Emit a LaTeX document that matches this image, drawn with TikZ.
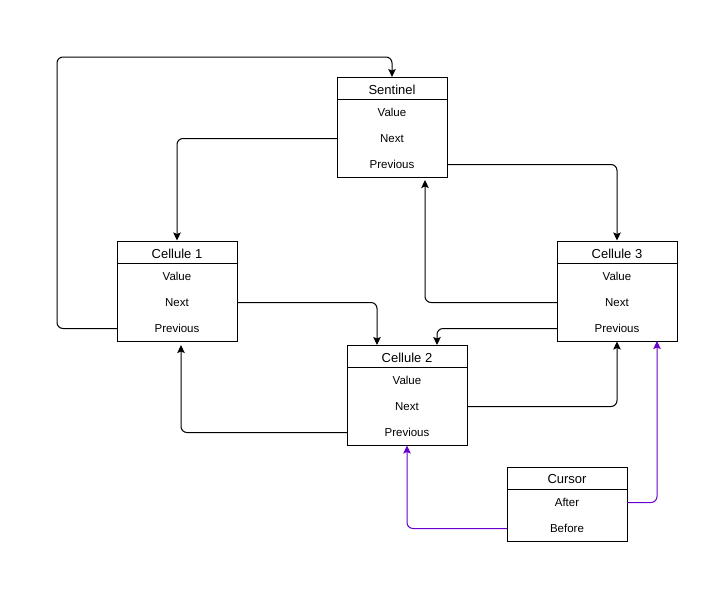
\documentclass[tikz,border=0pt]{standalone}
\usepackage{fontspec}
\setmainfont{Liberation Sans}
\usetikzlibrary{arrows.meta}
\definecolor{cursorpurple}{HTML}{6600CC}
\tikzset{
  box/.style={draw, line width=1pt, inner sep=0pt, fill=white},
  hdr/.style={inner sep=0pt, font=\fontsize{13}{15}\selectfont},
  row/.style={inner sep=0pt, minimum height=26pt, font=\fontsize{11.5}{13}\selectfont},
  link/.style={draw, line width=1pt, rounded corners=6pt, -{Stealth[length=8pt,width=7.5pt,inset=1.5pt]}},
  plink/.style={link, draw=cursorpurple, color=cursorpurple},
}
\begin{document}
\begin{tikzpicture}[x=1pt,y=-1pt]
\useasboundingbox (0,0) rectangle (728,595);
% Sentinel
\node[box, minimum width=110pt, minimum height=100pt] (s) at (392,127) {};
\draw[line width=1pt] (337,99) -- (447,99);
\node[hdr] (s-h) at (392,89.5) {Sentinel};
\node[row, minimum width=110pt] (s-val) at (392,112.5) {Value};
\node[row, minimum width=110pt] (s-next) at (392,138.5) {Next};
\node[row, minimum width=110pt] (s-prev) at (392,164.5) {Previous};
% Cellule 1
\node[box, minimum width=120pt, minimum height=100pt] (c1) at (177,291) {};
\draw[line width=1pt] (117,263) -- (237,263);
\node[hdr] (c1-h) at (177,253.5) {Cellule 1};
\node[row, minimum width=120pt] (c1-val) at (177,276.5) {Value};
\node[row, minimum width=120pt] (c1-next) at (177,302.5) {Next};
\node[row, minimum width=120pt] (c1-prev) at (177,328.5) {Previous};
% Cellule 2
\node[box, minimum width=120pt, minimum height=100pt] (c2) at (407,395) {};
\draw[line width=1pt] (347,367) -- (467,367);
\node[hdr] (c2-h) at (407,357.5) {Cellule 2};
\node[row, minimum width=120pt] (c2-val) at (407,380.5) {Value};
\node[row, minimum width=120pt] (c2-next) at (407,406.5) {Next};
\node[row, minimum width=120pt] (c2-prev) at (407,432.5) {Previous};
% Cellule 3
\node[box, minimum width=120pt, minimum height=100pt] (c3) at (617,291) {};
\draw[line width=1pt] (557,263) -- (677,263);
\node[hdr] (c3-h) at (617,253.5) {Cellule 3};
\node[row, minimum width=120pt] (c3-val) at (617,276.5) {Value};
\node[row, minimum width=120pt] (c3-next) at (617,302.5) {Next};
\node[row, minimum width=120pt] (c3-prev) at (617,328.5) {Previous};
% Cursor
\node[box, minimum width=120pt, minimum height=74pt] (cur) at (567,504) {};
\draw[line width=1pt] (507,489) -- (627,489);
\node[hdr] (cur-h) at (567,479.5) {Cursor};
\node[row, minimum width=120pt] (cur-after) at (567,502.5) {After};
\node[row, minimum width=120pt] (cur-before) at (567,528.5) {Before};
% coordinates
\coordinate (s-top) at (392,77);
\coordinate (loop) at (57,57);
\coordinate (s-bot) at (425,180);
\coordinate (c1-bot) at (181,345);
\coordinate (c2-topl) at (377,345);
\coordinate (c2-topr) at (437,345);
\coordinate (c3-botr) at (657,341);
% black connectors
\draw[link] (s-next.west) -| (c1.north);
\draw[link] (s-prev.east) -| (c3.north);
\draw[link] (c1-prev.west) -| (loop) -| (s-top);
\draw[link] (c1-next.east) -| (c2-topl);
\draw[link] (c3-next.west) -| (s-bot);
\draw[link] (c3-prev.west) -| (c2-topr);
\draw[link] (c2-next.east) -| (c3.south);
\draw[link] (c2-prev.west) -| (c1-bot);
% purple connectors
\draw[plink] (cur-before.west) -| (c2.south);
\draw[plink] (cur-after.east) -| (c3-botr);
\end{tikzpicture}
\end{document}
